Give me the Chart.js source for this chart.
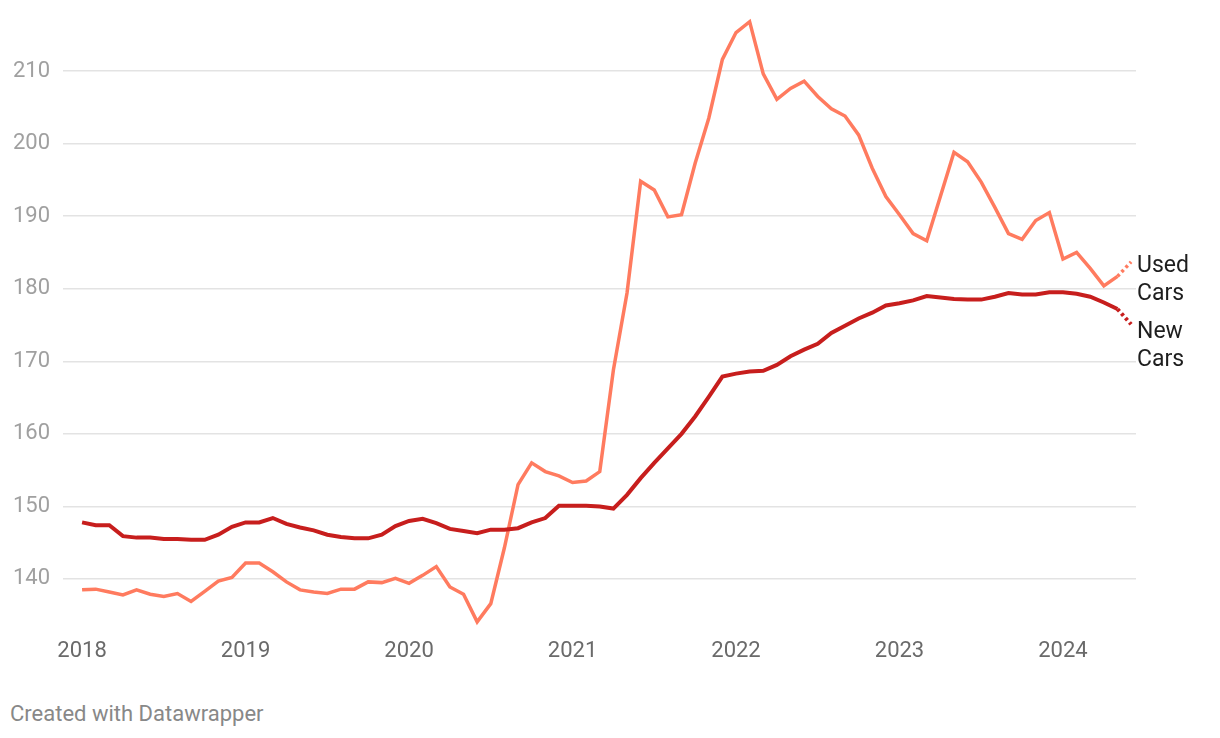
<!DOCTYPE html>
<html>
<head>
<meta charset="utf-8">
<script src="https://cdn.jsdelivr.net/npm/chart.js@4"></script>
<style>
  body { margin: 0; background: #fff; font-family: Roboto, sans-serif; }
  #wrap { position: relative; width: 1220px; height: 738px; }
  #chart { position: absolute; left: 0; top: 0; }
  #credit { position: absolute; left: 10px; top: 701px; font-size: 22px; color: #888; }
</style>
</head>
<body>
<div id="wrap">
  <canvas id="chart" width="1220" height="680"></canvas>
  <div id="credit">Created with Datawrapper</div>
</div>
<script>
const months = [
  '2018-01','2018-02','2018-03','2018-04','2018-05','2018-06','2018-07','2018-08','2018-09','2018-10','2018-11','2018-12',
  '2019-01','2019-02','2019-03','2019-04','2019-05','2019-06','2019-07','2019-08','2019-09','2019-10','2019-11','2019-12',
  '2020-01','2020-02','2020-03','2020-04','2020-05','2020-06','2020-07','2020-08','2020-09','2020-10','2020-11','2020-12',
  '2021-01','2021-02','2021-03','2021-04','2021-05','2021-06','2021-07','2021-08','2021-09','2021-10','2021-11','2021-12',
  '2022-01','2022-02','2022-03','2022-04','2022-05','2022-06','2022-07','2022-08','2022-09','2022-10','2022-11','2022-12',
  '2023-01','2023-02','2023-03','2023-04','2023-05','2023-06','2023-07','2023-08','2023-09','2023-10','2023-11','2023-12',
  '2024-01','2024-02','2024-03','2024-04','2024-05','2024-06'
];

const usedCars = [
  138.5, 138.6, 138.2, 137.8, 138.5, 137.9, 137.6, 138.0, 136.9, 138.3, 139.7, 140.2,
  142.2, 142.2, 141.0, 139.6, 138.5, 138.2, 138.0, 138.6, 138.6, 139.6, 139.5, 140.1,
  139.4, 140.5, 141.7, 138.9, 137.9, 134.1, 136.6, 144.3, 153.0, 156.0, 154.8, 154.2,
  153.3, 153.5, 154.8, 168.8, 179.4, 194.8, 193.6, 189.9, 190.2, 197.3, 203.5, 211.6,
  215.3, 216.8, 209.6, 206.1, 207.6, 208.6, 206.5, 204.8, 203.8, 201.2, 196.6, 192.7,
  190.2, 187.6, 186.6, 192.7, 198.8, 197.5, 194.7, 191.2, 187.6, 186.8, 189.4, 190.5,
  184.1, 185.0, 182.8, 180.4, 181.7, 183.7
];

const newCars = [
  147.8, 147.4, 147.4, 145.9, 145.7, 145.7, 145.5, 145.5, 145.4, 145.4, 146.1, 147.2,
  147.8, 147.8, 148.4, 147.6, 147.1, 146.7, 146.1, 145.8, 145.6, 145.6, 146.1, 147.3,
  148.0, 148.3, 147.7, 146.9, 146.6, 146.3, 146.8, 146.8, 147.0, 147.8, 148.4, 150.1,
  150.1, 150.1, 150.0, 149.7, 151.6, 153.9, 156.0, 158.0, 160.0, 162.4, 165.1, 167.9,
  168.3, 168.6, 168.7, 169.5, 170.7, 171.6, 172.4, 173.9, 174.9, 175.9, 176.7, 177.7,
  178.0, 178.4, 179.0, 178.8, 178.6, 178.5, 178.5, 178.9, 179.4, 179.2, 179.2, 179.5,
  179.5, 179.3, 178.9, 178.1, 177.2, 175.1
];

const years = ['2018', '2019', '2020', '2021', '2022', '2023', '2024'];
const yTicks = [140, 150, 160, 170, 180, 190, 200, 210];
const seriesNames = [['New', 'Cars'], ['Used', 'Cars']];

const lastIdx = months.length - 1;
const toPoints = arr => arr.map((v, i) => ({ x: i, y: v }));
// last month is preliminary, drawn dotted
const dottedEnd = { borderDash: ctx => ctx.p1DataIndex === lastIdx ? [3, 3] : undefined };

const endLabels = {
  id: 'endLabels',
  afterDatasetsDraw(chart) {
    const ctx = chart.ctx;
    ctx.save();
    ctx.font = '23px Roboto';
    ctx.fillStyle = '#1e1e1e';
    ctx.textBaseline = 'middle';
    chart.data.datasets.forEach((ds, i) => {
      const pt = chart.getDatasetMeta(i).data[lastIdx];
      const y = pt.y + (i === 0 ? 8 : 4);
      seriesNames[i].forEach((line, j) => ctx.fillText(line, 1137, y + j * 28));
    });
    ctx.restore();
  }
};

new Chart(document.getElementById('chart'), {
  type: 'line',
  data: {
    datasets: [{
      label: 'New Cars',
      data: toPoints(newCars),
      borderColor: '#c71e1d',
      borderWidth: 4,
      pointRadius: 0,
      tension: 0,
      segment: dottedEnd
    }, {
      label: 'Used Cars',
      data: toPoints(usedCars),
      borderColor: '#ff7b5f',
      borderWidth: 3.5,
      pointRadius: 0,
      tension: 0,
      segment: dottedEnd
    }]
  },
  options: {
    responsive: false,
    animation: false,
    devicePixelRatio: 1,
    layout: { padding: { top: 10, right: 84, left: 0, bottom: 0 } },
    plugins: { legend: { display: false }, tooltip: { enabled: false } },
    scales: {
      x: {
        type: 'linear',
        min: -1.4,
        max: 77.36,
        afterBuildTicks: s => { s.ticks = years.map((y, i) => ({ value: i * 12 })); },
        afterFit: s => { s.height = 50; s.paddingLeft = 0; s.paddingRight = 0; },
        grid: { display: false },
        border: { display: false },
        ticks: {
          callback: v => years[v / 12],
          font: { family: 'Roboto', size: 22 },
          color: '#6a6a6a',
          padding: 0,
          maxRotation: 0,
          autoSkip: false
        }
      },
      y: {
        min: 132.97,
        max: 218.41,
        afterBuildTicks: s => { s.ticks = yTicks.map(v => ({ value: v })); },
        afterFit: s => { s.width = 63; s.paddingTop = 0; s.paddingBottom = 0; },
        grid: { color: '#e3e3e3', lineWidth: 1.5, drawTicks: false },
        border: { display: false },
        ticks: {
          font: { family: 'Roboto', size: 22 },
          color: '#a0a0a0',
          padding: 13
        }
      }
    }
  },
  plugins: [endLabels]
});
</script>
</body>
</html>
